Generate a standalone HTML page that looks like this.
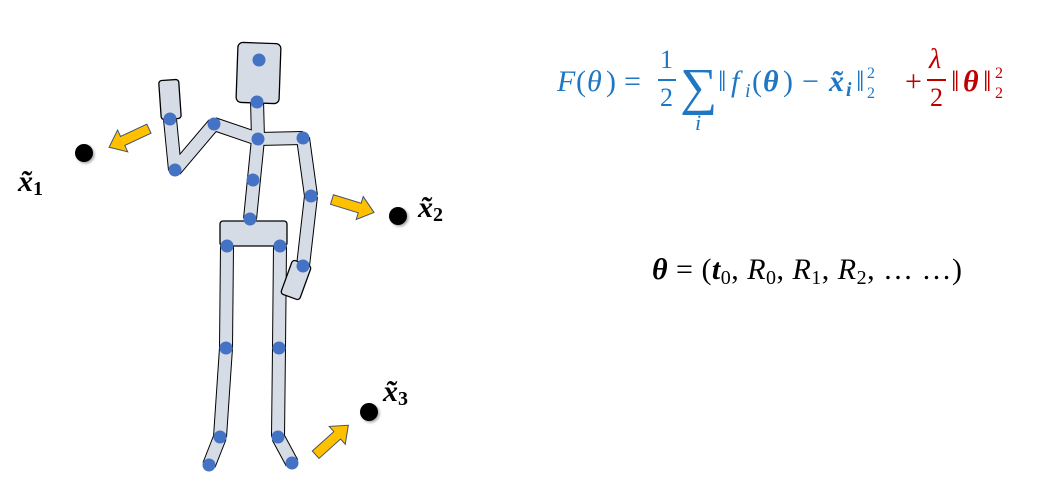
<!DOCTYPE html>
<html><head><meta charset="utf-8"><style>
html,body{margin:0;padding:0;background:#fff;}
svg{display:block;}
text{font-family:"Liberation Serif",serif;}
</style></head><body>
<svg width="1041" height="492" viewBox="0 0 1041 492" xmlns="http://www.w3.org/2000/svg">
<defs>
<filter id="sh" x="-50%" y="-50%" width="200%" height="200%"><feDropShadow dx="1.5" dy="1.5" stdDeviation="1.2" flood-color="#000" flood-opacity="0.35"/></filter>
<path id="arr" d="M-22,-5 L7,-5 L7,-12 L22,0 L7,12 L7,5 L-22,5 Z" fill="#FFC000" stroke="#44546A" stroke-width="1"/>
</defs>
<g stroke-linecap="butt" fill="none">
<g stroke="#000" stroke-width="14">
<line x1="170" y1="119" x2="175" y2="170"/>
<line x1="175" y1="170" x2="214" y2="124"/>
<line x1="214" y1="124" x2="258" y2="139"/>
<line x1="257" y1="100" x2="258" y2="139"/>
<line x1="258" y1="139" x2="303" y2="138"/>
<line x1="303" y1="138" x2="311" y2="196"/>
<line x1="311" y1="196" x2="303" y2="266"/>
<line x1="258" y1="139" x2="250" y2="219"/>
<line x1="227" y1="246" x2="226" y2="348"/>
<line x1="226" y1="348" x2="220" y2="437"/>
<line x1="220" y1="437" x2="209" y2="465"/>
<line x1="280" y1="246" x2="279" y2="348"/>
<line x1="279" y1="348" x2="278" y2="437"/>
<line x1="278" y1="437" x2="292" y2="463"/>
</g>
<g stroke="#D6DCE5" stroke-width="12">
<line x1="170" y1="119" x2="175" y2="170"/>
<line x1="175" y1="170" x2="214" y2="124"/>
<line x1="214" y1="124" x2="258" y2="139"/>
<line x1="257" y1="100" x2="258" y2="139"/>
<line x1="258" y1="139" x2="303" y2="138"/>
<line x1="303" y1="138" x2="311" y2="196"/>
<line x1="311" y1="196" x2="303" y2="266"/>
<line x1="258" y1="139" x2="250" y2="219"/>
<line x1="227" y1="246" x2="226" y2="348"/>
<line x1="226" y1="348" x2="220" y2="437"/>
<line x1="220" y1="437" x2="209" y2="465"/>
<line x1="280" y1="246" x2="279" y2="348"/>
<line x1="279" y1="348" x2="278" y2="437"/>
<line x1="278" y1="437" x2="292" y2="463"/>
</g>
</g>
<rect x="237" y="43" width="43" height="60" rx="5" fill="#D6DCE5" stroke="#000" stroke-width="1.3" transform="rotate(2 258 73)"/>
<rect x="160" y="80" width="20" height="39" rx="3" fill="#D6DCE5" stroke="#000" stroke-width="1.3" transform="rotate(-4 170 100)"/>
<rect x="220" y="221" width="67" height="25" rx="3" fill="#D6DCE5" stroke="#000" stroke-width="1.3"/>
<rect x="286" y="262" width="20" height="36" rx="3" fill="#D6DCE5" stroke="#000" stroke-width="1.3" transform="rotate(20 296 280)"/>
<g fill="#4472C4">
<circle cx="259" cy="60" r="6.5"/><circle cx="257" cy="102" r="6.5"/><circle cx="258" cy="139" r="6.5"/>
<circle cx="214" cy="124" r="6.5"/><circle cx="170" cy="119" r="6.5"/><circle cx="175" cy="170" r="6.5"/>
<circle cx="303" cy="138" r="6.5"/><circle cx="311" cy="196" r="6.5"/><circle cx="303" cy="266" r="6.5"/>
<circle cx="253" cy="180" r="6.5"/><circle cx="250" cy="219" r="6.5"/>
<circle cx="227" cy="246" r="6.5"/><circle cx="280" cy="246" r="6.5"/>
<circle cx="226" cy="348" r="6.5"/><circle cx="279" cy="348" r="6.5"/>
<circle cx="220" cy="437" r="6.5"/><circle cx="278" cy="437" r="6.5"/>
<circle cx="209" cy="465" r="6.5"/><circle cx="292" cy="463" r="6.5"/>
</g>
<use href="#arr" transform="translate(129,138) rotate(155)"/>
<use href="#arr" transform="translate(353,206) rotate(17)"/>
<use href="#arr" transform="translate(332,440) rotate(-42)"/>
<g fill="#000" filter="url(#sh)">
<circle cx="84" cy="153" r="9"/><circle cx="398" cy="216" r="9"/><circle cx="369" cy="412" r="9"/>
</g>
<g font-weight="bold" font-style="italic" font-size="30" fill="#000">
<text x="18" y="191">x̃<tspan font-size="20" font-style="normal" dy="4">1</tspan></text>
<text x="418" y="217">x̃<tspan font-size="20" font-style="normal" dy="4">2</tspan></text>
<text x="383" y="401">x̃<tspan font-size="20" font-style="normal" dy="4">3</tspan></text>
</g>
<!-- formula -->
<g fill="#1F77C4" font-size="30">
<text x="557" y="91" font-style="italic">F</text>
<text x="576" y="91">(</text>
<text x="587" y="91" font-style="italic">θ</text>
<text x="606" y="91">)</text>
<text x="624" y="91">=</text>
<text x="660" y="68" font-size="26">1</text>
<rect x="658" y="79" width="18" height="2"/>
<text x="660" y="106" font-size="26">2</text>
<text x="680" y="104" font-size="52">∑</text>
<text x="695" y="130" font-size="22" font-style="italic">i</text>
<text x="718" y="91">‖</text>
<text x="731" y="91" font-style="italic">f</text>
<text x="745" y="97" font-size="20" font-style="italic">i</text>
<text x="752" y="91">(</text>
<text x="763" y="91" font-weight="bold" font-style="italic">θ</text>
<text x="783" y="91">)</text>
<text x="802" y="91">−</text>
<text x="829" y="91" font-weight="bold" font-style="italic">x̃</text>
<text x="846" y="96" font-size="20" font-weight="bold" font-style="italic">i</text>
<text x="856" y="91">‖</text>
<text x="867" y="78" font-size="16">2</text>
<text x="867" y="98" font-size="16">2</text>
</g>
<g fill="#C00000" font-size="30">
<text x="905" y="91">+</text>
<text x="929" y="68" font-size="28" font-style="italic">λ</text>
<rect x="927" y="79" width="19" height="2"/>
<text x="930" y="106" font-size="26">2</text>
<text x="951" y="91">‖</text>
<text x="963" y="91" font-weight="bold" font-style="italic">θ</text>
<text x="983" y="91">‖</text>
<text x="995" y="78" font-size="16">2</text>
<text x="995" y="98" font-size="16">2</text>
</g>
<text x="652" y="279" font-size="30" fill="#000" textLength="310" lengthAdjust="spacing"><tspan font-weight="bold" font-style="italic">θ</tspan> = (<tspan font-weight="bold" font-style="italic">t</tspan><tspan font-size="20" dy="5">0</tspan><tspan dy="-5">, </tspan><tspan font-style="italic">R</tspan><tspan font-size="20" dy="5">0</tspan><tspan dy="-5">, </tspan><tspan font-style="italic">R</tspan><tspan font-size="20" dy="5">1</tspan><tspan dy="-5">, </tspan><tspan font-style="italic">R</tspan><tspan font-size="20" dy="5">2</tspan><tspan dy="-5">, … …)</tspan></text>
</svg>
</body></html>
